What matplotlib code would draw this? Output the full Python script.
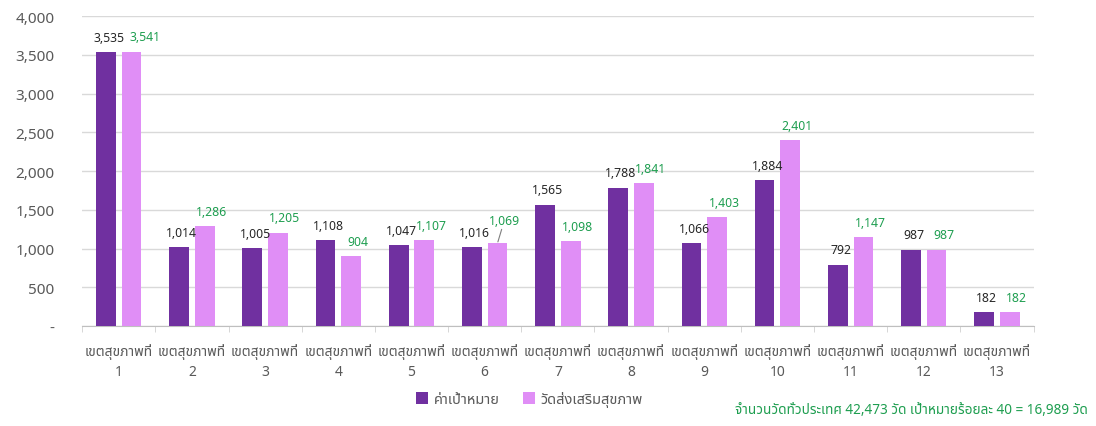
import numpy as np
import matplotlib
matplotlib.use("Agg")
import matplotlib.pyplot as plt
from matplotlib.ticker import FixedLocator, FuncFormatter

plt.rcParams['font.family'] = ['Noto Sans Thai', 'DejaVu Sans']

# ข้อมูลรายเขตสุขภาพ
regions = [str(i) for i in range(1, 14)]
target = [3535, 1014, 1005, 1108, 1047, 1016, 1565, 1788, 1066, 1884, 792, 987, 182]
temples = [3541, 1286, 1205, 904, 1107, 1069, 1098, 1841, 1403, 2401, 1147, 987, 182]
series_names = ['ค่าเป้าหมาย', 'วัดส่งเสริมสุขภาพ']
footnote = 'จำนวนวัดทั่วประเทศ 42,473 วัด เป้าหมายร้อยละ 40 = 16,989 วัด'

dark = '#7030A0'
light = '#E08EF6'
green = '#1E9E50'
grey = '#595959'

fig = plt.figure(figsize=(10.96, 4.27), dpi=100)
ax = fig.add_axes([0.075, 0.234, 0.868, 0.726])

x = np.arange(len(regions))
w = 0.27
off = 0.175
b1 = ax.bar(x - off, target, w, color=dark, label=series_names[0], zorder=3)
b2 = ax.bar(x + off, temples, w, color=light, label=series_names[1], zorder=3)

# ป้ายตัวเลขบนแท่ง (เลื่อนป้ายสีเขียวไปทางขวาเล็กน้อยไม่ให้ชนกัน)
for i, (rect, v) in enumerate(zip(b1, target)):
    ax.annotate(f'{v:,}', (rect.get_x() + rect.get_width() / 2, v),
                xytext=(2, 6), textcoords='offset points',
                ha='center', va='bottom', fontsize=8.8, color='#262626')
for i, (rect, v) in enumerate(zip(b2, temples)):
    dx = 10 if i == 0 else 5
    dy = 6
    arrow = None
    if i == 5:
        dy = 12
        arrow = dict(arrowstyle='-', color='#7F7F7F', lw=0.8, shrinkA=0, shrinkB=1)
    ax.annotate(f'{v:,}', (rect.get_x() + rect.get_width() / 2, v),
                xytext=(dx, dy), textcoords='offset points',
                ha='center', va='bottom', fontsize=8.8, color=green,
                arrowprops=arrow)

ax.set_xlim(-0.5, len(regions) - 0.5)
ax.set_ylim(0, 4000)
ax.yaxis.set_major_locator(FixedLocator(range(0, 4001, 500)))
ax.yaxis.set_major_formatter(FuncFormatter(lambda v, p: '-' if v == 0 else f'{int(v):,}'))
ax.grid(axis='y', color='#D9D9D9', linewidth=1, zorder=0)

ax.set_xticks(x)
ax.set_xticklabels([f'เขตสุขภาพที่\n{r}' for r in regions], fontsize=10, color=grey,
                   linespacing=1.5)
ax.xaxis.set_minor_locator(FixedLocator(np.arange(-0.5, len(regions), 1.0)))
ax.tick_params(axis='x', which='major', length=0, pad=12)
ax.tick_params(axis='x', which='minor', length=4, color='#D0D0D0')
ax.tick_params(axis='y', length=0, labelsize=11, labelcolor=grey, pad=20)

for s in ['top', 'right', 'left']:
    ax.spines[s].set_visible(False)
ax.spines['bottom'].set_color('#BFBFBF')

fig.legend(handles=[b1, b2], loc='center', bbox_to_anchor=(0.483, 0.063), ncol=2,
           frameon=False, fontsize=10.5, handlelength=0.8, handleheight=0.8,
           handletextpad=0.4, columnspacing=1.6, labelcolor=grey)

fig.text(0.993, 0.038, footnote, ha='right', va='center', fontsize=9.8, color=green)

fig.savefig('out.png', dpi=100)
